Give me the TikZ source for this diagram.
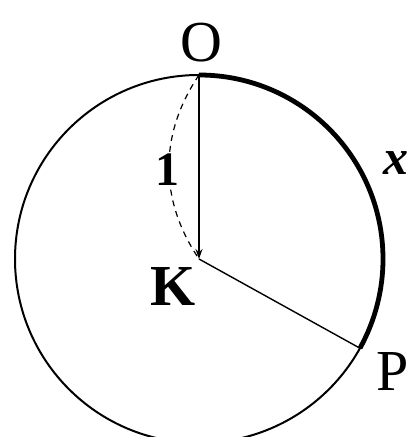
\documentclass[tikz,border=0pt]{standalone}
\usepackage{fontspec}
\setmainfont{Liberation Serif}
\usetikzlibrary{arrows.meta,positioning,calc}
\tikzset{
  rim/.style={line width=1pt, draw=black},
  arcx/.style={line width=2.4pt, draw=black},
  radius line/.style={line width=0.7pt, draw=black},
  unit arc/.style={line width=0.6pt, draw=black, dash pattern=on 3pt off 2.5pt},
  pointer/.style={-{Stealth[length=5pt,width=3.5pt]}, line width=0.7pt, draw=black},
  lbl/.style={font=\fontsize{29}{30}\selectfont, inner sep=0pt}
}
\begin{document}
\begin{tikzpicture}[x=0.5pt, y=0.5pt]
\useasboundingbox (0,0) rectangle (412,437);

% centre and points on the rim
\coordinate (K) at (199,178);
\coordinate (O) at ($(K)+(90:184)$);
\coordinate (P) at ($(K)+(-29:184)$);

\draw[rim] (K) circle[radius=92pt];
\draw[arcx] (O) arc[start angle=90, end angle=-29, radius=92pt];

\draw[pointer] (O) -- (K);
\draw[unit arc] (O) to[bend right=34] (K);
\draw[radius line] (K) -- (P);

% labels
\node[lbl] (lO) at (201,394) {O};
\node[lbl, font=\fontsize{29}{30}\selectfont\bfseries] (lK) at (173,150) {K};
\node[lbl] (lP) at (393,65) {P};
\node[font=\fontsize{24}{26}\selectfont\bfseries, inner sep=0pt] (one) at (167,267) {1};
\node[font=\fontsize{25}{26}\selectfont\bfseries\itshape, inner sep=0pt] (lx) at (396,274) {x};
\end{tikzpicture}
\end{document}
